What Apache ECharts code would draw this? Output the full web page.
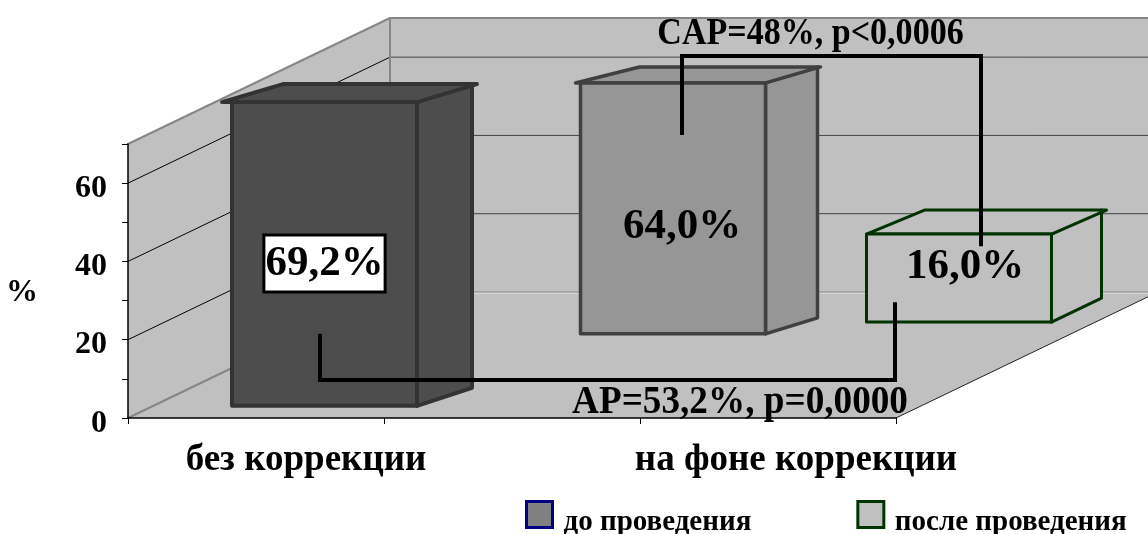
<!DOCTYPE html>
<html lang="ru">
<head>
    <meta charset="UTF-8">
    <title>Коррекция</title>
    <style>
        html, body { margin: 0; padding: 0; background: #fff; }
        #main { width: 1148px; height: 534px; }
    </style>
</head>
<body>
    <div id="main"></div>
    <script src="https://cdn.jsdelivr.net/npm/echarts@6/dist/echarts.min.js"></script>
    <script>
        // data, axis units
        var categories = ['без коррекции', '', 'на фоне коррекции'];
        var beforeBase = [3.1, 21.5];
        var beforeTop = [80.7, 85.6];
        var afterBase = [24.5];
        var afterTop = [47];
        var barLabels = ['69,2%', '64,0%', '16,0%'];
        var gridValues = [0, 20, 40, 60];
        var seriesNames = ['до проведения', 'после проведения'];
        var capNote = 'CAP=48%, p<0,0006';
        var apNote = 'AP=53,2%, p=0,0000';

        var FONT = '"Liberation Serif", "Times New Roman", serif';
        var DEPTH_X = 262, DEPTH_Y = 126;
        var WALL = '#c0c0c0', EDGE = '#868686';

        // how each bar is drawn, by category index
        var barStyle = [
            { shift: 68.5, dx: 55, dy: 18, overL: 10, overR: 5, backL: 61, fill: '#4d4d4d', line: '#333333', lw: 4, labelX: 0, labelY: 9.5, box: true },
            { shift: 161, dx: 52, dy: 16, overL: 5, overR: 3, backL: 64, fill: '#969696', line: '#404040', lw: 3.5, labelX: 9, labelY: 19 },
            { shift: 191, dx: 50, dy: 24, overL: 0, overR: 5, backL: 58, fill: '#c0c0c0', line: '#003300', lw: 3, labelX: 6, labelY: -11 }
        ];
        var BAR_W = 185;

        function line(x1, y1, x2, y2, color, width, z2) {
            return {
                type: 'line',
                z2: z2 || 0,
                shape: { x1: x1, y1: y1, x2: x2, y2: y2 },
                style: { stroke: color, lineWidth: width, lineCap: 'round' }
            };
        }

        function poly(points, fill) {
            return { type: 'polygon', shape: { points: points }, style: { fill: fill, stroke: null } };
        }

        function renderWalls(params, api) {
            var cs = params.coordSys;
            var l = cs.x, r = cs.x + cs.width;
            var y0 = api.coord([0, 0])[1], yMax = cs.y;
            var children = [
                poly([[l, yMax], [l + DEPTH_X, yMax - DEPTH_Y], [l + DEPTH_X, y0 - DEPTH_Y], [l, y0]], WALL),
                poly([[l + DEPTH_X, yMax - DEPTH_Y], [r + DEPTH_X, yMax - DEPTH_Y], [r + DEPTH_X, y0 - DEPTH_Y], [l + DEPTH_X, y0 - DEPTH_Y]], WALL),
                poly([[l, y0], [r, y0], [r + DEPTH_X, y0 - DEPTH_Y], [l + DEPTH_X, y0 - DEPTH_Y]], WALL)
            ];
            gridValues.forEach(function (v) {
                if (v === 0) return;
                var y = api.coord([0, v])[1];
                children.push(line(l, y, l + DEPTH_X, y - DEPTH_Y, '#000', 1));
                children.push(line(l + DEPTH_X, y - DEPTH_Y, r + DEPTH_X, y - DEPTH_Y, '#444', 1));
            });
            children.push(line(l, yMax, l + DEPTH_X, yMax - DEPTH_Y, EDGE, 2));
            children.push(line(l + DEPTH_X, yMax - DEPTH_Y, r + DEPTH_X, yMax - DEPTH_Y, EDGE, 2));
            children.push(line(l + DEPTH_X, yMax - DEPTH_Y, l + DEPTH_X, y0 - DEPTH_Y, EDGE, 2));
            children.push(line(l, y0, l + DEPTH_X, y0 - DEPTH_Y, EDGE, 2));
            children.push(line(l + DEPTH_X, y0 - DEPTH_Y + 1, r + DEPTH_X, y0 - DEPTH_Y + 1, '#eeeeee', 1));
            children.push(line(l + DEPTH_X, y0 - DEPTH_Y, r + DEPTH_X, y0 - DEPTH_Y, EDGE, 1));
            children.push(line(r, y0, r + DEPTH_X, y0 - DEPTH_Y, '#222', 1));
            return { type: 'group', children: children };
        }

        function renderBar(params, api) {
            var i = api.value(0);
            var s = barStyle[i];
            var cx = api.coord([i, 0])[0] + s.shift;
            var yb = api.coord([i, api.value(1)])[1];
            var yt = api.coord([i, api.value(2)])[1];
            var xl = cx - BAR_W / 2, xr = cx + BAR_W / 2;
            var stroke = { fill: s.fill, stroke: s.line, lineWidth: s.lw, lineJoin: 'round' };
            var children = [
                { type: 'polygon', shape: { points: [[xr, yt], [xr + s.dx, yt - s.dy], [xr + s.dx, yb - s.dy], [xr, yb]] }, style: stroke },
                { type: 'polygon', shape: { points: [[xl - s.overL, yt], [xr, yt], [xr + s.dx + s.overR, yt - s.dy], [xl - s.overL + s.backL, yt - s.dy]] }, style: stroke },
                { type: 'rect', shape: { x: xl, y: yt, width: BAR_W, height: yb - yt }, style: stroke }
            ];
            var text = {
                type: 'text',
                z2: 20,
                x: cx + s.labelX,
                y: (yb + yt) / 2 + s.labelY,
                style: {
                    text: barLabels[i],
                    font: 'bold 43px ' + FONT,
                    fill: '#000',
                    align: 'center',
                    verticalAlign: 'middle'
                }
            };
            if (s.box) {
                text.style.backgroundColor = '#fff';
                text.style.borderColor = '#000';
                text.style.borderWidth = 3;
                text.style.padding = [7, 0, 4, 0];
            }
            children.push(text);
            return { type: 'group', children: children };
        }

        function renderNotes(params, api) {
            function bx(i, off) { return api.coord([i, 0])[0] + barStyle[i].shift + off; }
            function vy(v) { return api.coord([0, v])[1]; }
            function bracket(points) {
                return {
                    type: 'polyline',
                    z2: 10,
                    shape: { points: points },
                    style: { stroke: '#000', lineWidth: 4, fill: null, lineJoin: 'miter' }
                };
            }
            function note(txt, x, y, size, scaleX) {
                return {
                    type: 'text',
                    z2: 15,
                    x: x,
                    y: y,
                    scaleX: scaleX,
                    style: { text: txt, font: 'bold ' + size + 'px ' + FONT, fill: '#000', align: 'center', verticalAlign: 'middle' }
                };
            }
            var capL = bx(1, 9), capR = bx(2, 22), capY = vy(92.5);
            var apL = bx(0, -4.5), apR = bx(2, -64), apY = vy(9.7);
            return {
                type: 'group',
                children: [
                    bracket([[capL, vy(72.3)], [capL, capY], [capR, capY], [capR, vy(43.9)]]),
                    bracket([[apL, vy(21.5)], [apL, apY], [apR, apY], [apR, vy(29.6)]]),
                    note(capNote, 810.5, capY - 21, 37, 0.92),
                    note(apNote, 740, apY + 23, 40, 0.93)
                ]
            };
        }

        function barData(start, bases, tops) {
            return bases.map(function (b, k) { return [start + k, b, tops[k]]; });
        }

        var myChart = echarts.init(document.getElementById('main'));
        var option = {
            animation: false,
            backgroundColor: '#fff',
            textStyle: { fontFamily: FONT },
            grid: { left: 128, right: 252, top: 144, bottom: 116, outerBoundsMode: 'none' },
            legend: {
                left: 525,
                top: 500,
                padding: 0,
                itemWidth: 26,
                itemHeight: 26,
                itemGap: 105,
                align: 'left',
                selectedMode: false,
                formatter: '{a|{name}}',
                textStyle: {
                    rich: {
                        a: { fontFamily: FONT, fontWeight: 'bold', fontSize: 29, color: '#000', padding: [17, 0, 0, 6] }
                    }
                },
                data: [
                    { name: seriesNames[0], icon: 'rect', itemStyle: { color: '#808080', borderColor: '#000080', borderWidth: 3 } },
                    { name: seriesNames[1], icon: 'rect', itemStyle: { color: '#c0c0c0', borderColor: '#003300', borderWidth: 3 } }
                ]
            },
            xAxis: {
                type: 'category',
                data: [
                    { value: categories[0], textStyle: { padding: [0, 0, 0, 100] } },
                    categories[1],
                    { value: categories[2], textStyle: { padding: [0, 0, 0, 56] } }
                ],
                z: 5,
                axisLine: { lineStyle: { color: '#000', width: 1.5 } },
                axisTick: { show: true, length: 6, interval: 0, lineStyle: { color: '#000', width: 1 } },
                axisLabel: { interval: 0, margin: 24, fontFamily: FONT, fontWeight: 'bold', fontSize: 37, color: '#000' }
            },
            yAxis: {
                type: 'value',
                min: 0,
                max: 70,
                interval: 10,
                z: 5,
                name: '{a|%}',
                nameLocation: 'middle',
                nameRotate: 0,
                nameGap: 90,
                nameTextStyle: {
                    rich: {
                        a: { fontFamily: FONT, fontWeight: 'bold', fontSize: 32, color: '#000', padding: [24, 0, 0, 0] }
                    }
                },
                splitLine: { show: false },
                axisLine: { show: true, lineStyle: { color: '#000', width: 1.5 } },
                axisTick: { show: true, length: 6, lineStyle: { color: '#000', width: 1 } },
                axisLabel: {
                    margin: 21,
                    formatter: function (v) { return gridValues.indexOf(v) >= 0 ? '{a|' + v + '}' : ''; },
                    rich: {
                        a: { fontFamily: FONT, fontWeight: 'bold', fontSize: 32, color: '#000', padding: [11, 0, 0, 0] }
                    }
                }
            },
            series: [
                { type: 'custom', z: 1, silent: true, renderItem: renderWalls, data: [[0, 0, 0]] },
                { type: 'custom', name: seriesNames[0], z: 2, renderItem: renderBar, data: barData(0, beforeBase, beforeTop), encode: { x: 0, y: 2 } },
                { type: 'custom', name: seriesNames[1], z: 2, renderItem: renderBar, data: barData(2, afterBase, afterTop), encode: { x: 0, y: 2 } },
                { type: 'custom', z: 3, silent: true, renderItem: renderNotes, data: [[0, 0, 0]] }
            ]
        };
        myChart.setOption(option);
    </script>
</body>
</html>
